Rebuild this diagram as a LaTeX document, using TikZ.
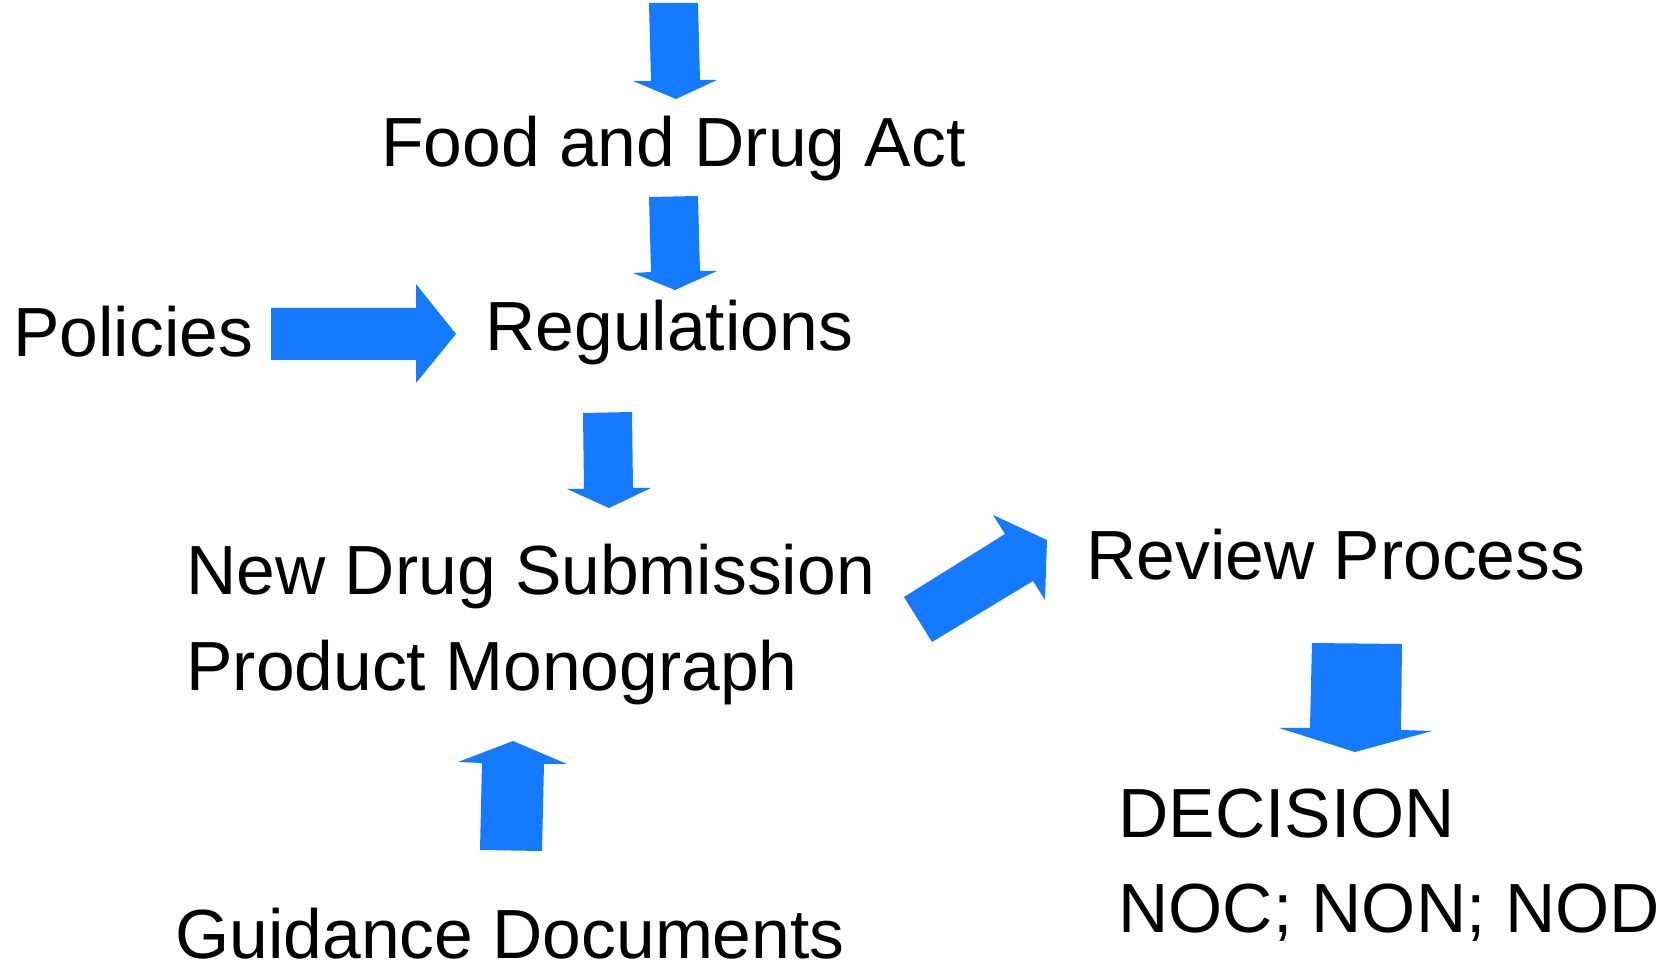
\documentclass[tikz,border=0pt]{standalone}
\usepackage{fontspec}
\setmainfont{Liberation Sans}
\definecolor{ArrowBlue}{RGB}{20,122,255}
\newcommand{\labelfont}{\fontsize{34.8}{41}\selectfont}
\usetikzlibrary{positioning}
\tikzset{
  lbl/.style={anchor=base west, inner sep=0pt, font=\labelfont},
  blockarrow/.style={fill=ArrowBlue}
}

\begin{document}
\begin{tikzpicture}[x=0.5pt,y=-0.5pt]
          \useasboundingbox (0,0) rectangle (1667,972);
          \clip (0,0) rectangle (1667,972);
          % labels
          \node[lbl] (act) at (381,167) {Food and Drug Act};
          \node[lbl] (policies) at (13,357) {Policies};
          \node[lbl] (regs) at (485,351) {Regulations};
          \node[lbl] (nds) at (186,595) {New Drug Submission};
          \node[lbl] (mono) at (186,691) {Product Monograph};
          \node[lbl] (review) at (1086,580) {Review Process};
          \node[lbl] (decision) at (1118,838) {DECISION};
          \node[lbl] (outcome) at (1118,933) {NOC; NON; NOD};
          \node[lbl] (guidance) at (175,958) {Guidance Documents};
          % block arrows
          \fill[blockarrow] (649,3) -- (698,3) -- (700,80) -- (717,80) -- (676,99) -- (633,81) -- (651,81) -- cycle;
          \fill[blockarrow] (649,197) -- (698,196) -- (700,271) -- (717,271) -- (675,290) -- (633,273) -- (651,272) -- cycle;
          \fill[blockarrow] (271,308) -- (416,308) -- (416,284) -- (456,334) -- (416,383) -- (416,360) -- (271,360) -- cycle;
          \fill[blockarrow] (583,413) -- (632,412) -- (633,488) -- (651,488) -- (609,508) -- (567,489) -- (584,489) -- cycle;
          \fill[blockarrow] (904,597) -- (1005,534) -- (993,515) -- (1047,540) -- (1045,600) -- (1033,581) -- (932,642) -- cycle;
          \fill[blockarrow] (1312,643) -- (1402,644) -- (1401,730) -- (1432,731) -- (1355,752) -- (1279,728) -- (1310,728) -- cycle;
          \fill[blockarrow] (480,850) -- (542,851) -- (544,764) -- (567,764) -- (513,741) -- (458,762) -- (482,763) -- cycle;
        \end{tikzpicture}
\end{document}
